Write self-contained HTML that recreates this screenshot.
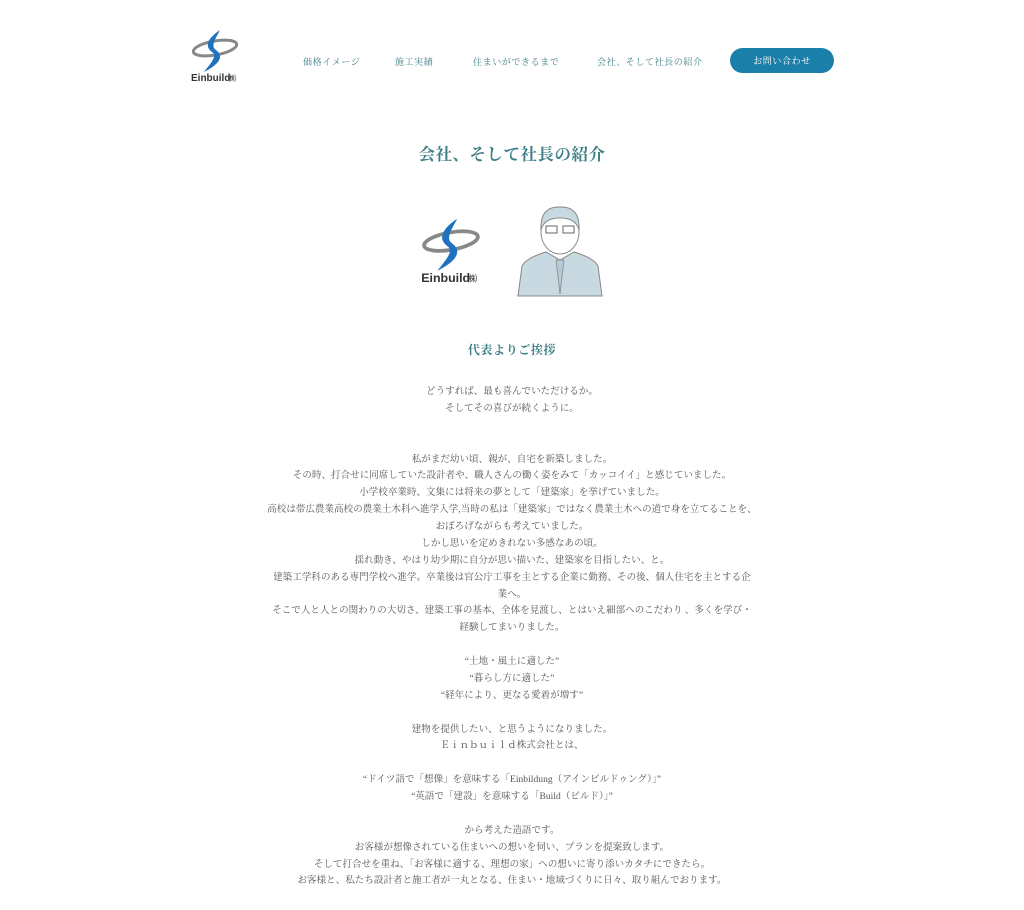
<!DOCTYPE html>
<html><head><meta charset="utf-8"><style>
body{margin:0;background:#fff;width:1024px;height:910px;overflow:hidden;font-family:"Liberation Serif","Noto Serif CJK JP","Noto Serif CJK SC",serif;color:#555;}
.nav{position:absolute;top:55px;font-size:9px;color:#3d7f86;letter-spacing:0.6px;white-space:nowrap}
.btn{position:absolute;left:730px;top:48px;width:104px;height:25px;border-radius:13px;background:#1a7fa9;color:#fff;font-size:9px;text-align:center;line-height:26px;letter-spacing:0.6px}
h1{position:absolute;top:141px;left:0;width:1024px;text-align:center;margin:0;font-size:16.5px;color:#3d7f86;font-weight:bold;letter-spacing:0.5px}
h2{position:absolute;top:341px;left:0;width:1024px;text-align:center;margin:0;font-size:12px;color:#3d7f86;font-weight:bold;letter-spacing:0.6px}
.txt{position:absolute;top:384px;left:0;width:1024px;text-align:center;font-size:9.5px;line-height:16.87px;white-space:nowrap;letter-spacing:0.05px}
</style></head><body>
<svg style="position:absolute;left:190px;top:28px" width="50" height="56" viewBox="0 0 50 56">
<ellipse cx="25" cy="20" rx="22" ry="7" fill="none" stroke="#888" stroke-width="3" transform="rotate(-10 25 20)"/>
<path d="M30 2 C18 10 14 18 22 24 C28 28 20 36 14 44 C30 36 34 28 26 22 C20 18 26 10 30 2Z" fill="#1f72c0"/>
<text x="1" y="53" font-family="Liberation Sans,sans-serif" font-size="10" font-weight="bold" fill="#333">Einbuild</text><text x="38" y="53" font-family="Noto Sans CJK JP,sans-serif" font-size="8" fill="#333">㈱</text>
</svg>
<div class="nav" style="left:303px">価格イメージ</div>
<div class="nav" style="left:395px">施工実績</div>
<div class="nav" style="left:473px">住まいができるまで</div>
<div class="nav" style="left:597px">会社、そして社長の紹介</div>
<div class="btn">お問い合わせ</div>
<h1>会社、そして社長の紹介</h1>
<svg style="position:absolute;left:420px;top:216px" width="62" height="70" viewBox="0 0 50 56">
<ellipse cx="25" cy="20" rx="22" ry="7" fill="none" stroke="#888" stroke-width="3" transform="rotate(-10 25 20)"/>
<path d="M30 2 C18 10 14 18 22 24 C28 28 20 36 14 44 C30 36 34 28 26 22 C20 18 26 10 30 2Z" fill="#1f72c0"/>
<text x="1" y="53" font-family="Liberation Sans,sans-serif" font-size="10" font-weight="bold" fill="#333">Einbuild</text><text x="38" y="53" font-family="Noto Sans CJK JP,sans-serif" font-size="8" fill="#333">㈱</text>
</svg>
<svg style="position:absolute;left:516px;top:204px" width="88" height="94" viewBox="0 0 88 94">
<path d="M2 92 L6 62 Q10 54 30 48 L44 56 L58 48 Q78 54 82 62 L86 92Z" fill="#c9d9e2" stroke="#888" stroke-width="1"/>
<path d="M40 56 L44 90 L48 56Z" fill="#b5c9d6" stroke="#888" stroke-width="0.8"/>
<ellipse cx="44" cy="28" rx="19" ry="22" fill="#fff" stroke="#888" stroke-width="1"/>
<path d="M25 26 Q24 2 44 3 Q64 2 63 26 Q60 14 44 14 Q28 14 25 26Z" fill="#c9d9e2" stroke="#888" stroke-width="1"/>
<rect x="30" y="22" width="11" height="7" fill="none" stroke="#666"/><rect x="47" y="22" width="11" height="7" fill="none" stroke="#666"/>
</svg>
<h2>代表よりご挨拶</h2>
<div class="txt">どうすれば、最も喜んでいただけるか。<br>そしてその喜びが続くように。<br><br><br>私がまだ幼い頃、親が、自宅を新築しました。<br>その時、打合せに同席していた設計者や、職人さんの働く姿をみて「カッコイイ」と感じていました。<br>小学校卒業時、文集には将来の夢として「建築家」を挙げていました。<br>高校は帯広農業高校の農業土木科へ進学入学,当時の私は「建築家」ではなく農業土木への道で身を立てることを、<br>おぼろげながらも考えていました。<br>しかし思いを定めきれない多感なあの頃。<br>揺れ動き、やはり幼少期に自分が思い描いた、建築家を目指したい、と。<br>建築工学科のある専門学校へ進学。卒業後は官公庁工事を主とする企業に勤務、その後、個人住宅を主とする企<br>業へ。<br>そこで人と人との関わりの大切さ、建築工事の基本、全体を見渡し、とはいえ細部へのこだわり 、多くを学び・<br>経験してまいりました。<br><br>“土地・風土に適した”<br>“暮らし方に適した”<br>“経年により、更なる愛着が増す”<br><br>建物を提供したい、と思うようになりました。<br>Ｅｉｎｂｕｉｌｄ株式会社とは、<br><br>“ドイツ語で「想像」を意味する「Einbildung（アインビルドゥング）」”<br>“英語で「建設」を意味する「Build（ビルド）」”<br><br>から考えた造語です。<br>お客様が想像されている住まいへの想いを伺い、プランを提案致します。<br>そして打合せを重ね、「お客様に適する、理想の家」への想いに寄り添いカタチにできたら。<br>お客様と、私たち設計者と施工者が一丸となる、住まい・地域づくりに日々、取り組んでおります。</div>
</body></html>
